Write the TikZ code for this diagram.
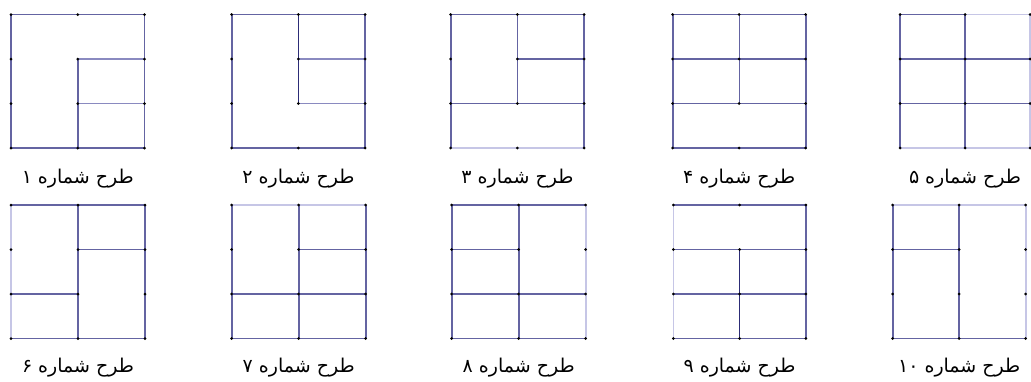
\documentclass[tikz,border=0pt]{standalone}
\usepackage{fontspec}
\usepackage{xcolor}
\usetikzlibrary{positioning}
\newfontfamily\arabicfont[Script=Arabic]{DejaVu Sans}
\TeXXeTstate=1
\definecolor{wallblue}{RGB}{100,100,162}
\definecolor{softblue}{RGB}{138,138,192}
\definecolor{faintblue}{RGB}{198,198,230}
\definecolor{darkblue}{RGB}{44,44,118}
\tikzset{
  wall/.style={draw=wallblue, line width=1.6pt},
  soft/.style={draw=softblue, line width=1.6pt},
  faint/.style={draw=faintblue, line width=1.6pt},
  strong/.style={draw=darkblue, line width=1.3pt},
  thinwall/.style={draw=wallblue, line width=1pt},
  caption/.style={font=\fontsize{19}{22}\selectfont\arabicfont, inner sep=0pt}
}
% grid points of one plan: name, left, top, width
\newcommand{\plangrid}[4]{%
  \foreach \c in {0,1,2}{\foreach \r in {0,1,2,3}{
    \coordinate (#1-\c\r) at ({#2+\c*#4/2},{#3+\r*44.5});}}}
\newcommand{\planjoints}[1]{%
  \foreach \c in {0,1,2}{\foreach \r in {0,1,2,3}{
    \fill (#1-\c\r) circle (1.5);}}}
\newcommand{\plantitle}[1]{\beginR طرح شماره \beginL#1\endL\endR}

\begin{document}
\begin{tikzpicture}[x=1pt, y=-1pt]
  \useasboundingbox (0,0) rectangle (1031,381);

  \plangrid{p1}{11}{14.5}{133.5}
  \plangrid{p2}{231.7}{14.5}{133.5}
  \plangrid{p3}{450.7}{14.5}{133.5}
  \plangrid{p4}{672.7}{14.5}{133}
  \plangrid{p5}{900}{14.5}{130}
  \plangrid{p6}{11}{205}{134}
  \plangrid{p7}{231.7}{205}{134}
  \plangrid{p8}{451.7}{205}{134}
  \plangrid{p9}{673.3}{205}{132.5}
  \plangrid{p10}{892.7}{205}{133}

  % row 1
  \draw[wall] (p1-00) rectangle (p1-23);
  \draw[wall] (p1-11) -- (p1-13);
  \draw[soft] (p1-11) -- (p1-21) (p1-12) -- (p1-22);

  \draw[wall] (p2-00) rectangle (p2-23);
  \draw[strong] (p2-10) -- (p2-12);
  \draw[soft] (p2-11) -- (p2-21) (p2-12) -- (p2-22);

  \draw[faint] (p3-03) -- (p3-23);
  \draw[wall] (p3-03) -- (p3-00) -- (p3-20) -- (p3-23);
  \draw[wall] (p3-10) -- (p3-12) (p3-11) -- (p3-21) (p3-02) -- (p3-22);

  \draw[wall] (p4-00) rectangle (p4-23);
  \draw[wall] (p4-01) -- (p4-21) (p4-02) -- (p4-22);
  \draw[thinwall] (p4-10) -- (p4-12);

  \draw[faint] (p5-10) -- (p5-20) -- (p5-23) -- (p5-03);
  \draw[wall] (p5-03) -- (p5-00) -- (p5-10);
  \draw[wall] (p5-01) -- (p5-21) (p5-02) -- (p5-22) (p5-10) -- (p5-13);

  % row 2
  \draw[faint] (p6-00) -- (p6-03);
  \draw[wall] (p6-00) -- (p6-20) -- (p6-23) -- (p6-03);
  \draw[wall] (p6-10) -- (p6-13) (p6-11) -- (p6-21) (p6-02) -- (p6-12);

  \draw[faint] (p7-00) -- (p7-20);
  \draw[wall] (p7-20) -- (p7-23) -- (p7-03) -- (p7-00);
  \draw[wall] (p7-10) -- (p7-13) (p7-11) -- (p7-21) (p7-02) -- (p7-22);

  \draw[faint] (p8-20) -- (p8-23);
  \draw[wall] (p8-23) -- (p8-03) -- (p8-00) -- (p8-20);
  \draw[wall] (p8-10) -- (p8-13) (p8-01) -- (p8-11) (p8-02) -- (p8-22);

  \draw[faint] (p9-00) -- (p9-03);
  \draw[wall] (p9-03) -- (p9-23) -- (p9-20) -- (p9-00);
  \draw[wall] (p9-01) -- (p9-21) (p9-02) -- (p9-22);
  \draw[strong] (p9-11) -- (p9-13);

  \draw[faint] (p10-00) -- (p10-20) -- (p10-23);
  \draw[wall] (p10-23) -- (p10-03) -- (p10-00);
  \draw[wall] (p10-10) -- (p10-13) (p10-01) -- (p10-11);

  % joints
  \foreach \p in {p1,p2,p3,p4,p5,p6,p7,p8,p9,p10}{\planjoints{\p}}

  % titles
  \node[caption, below=21pt of p1-13] (title1) {\plantitle{۱}};
  \node[caption, below=21pt of p2-13] (title2) {\plantitle{۲}};
  \node[caption, below=21pt of p3-13] (title3) {\plantitle{۳}};
  \node[caption, below=21pt of p4-13] (title4) {\plantitle{۴}};
  \node[caption, below=21pt of p5-13] (title5) {\plantitle{۵}};
  \node[caption, below=19pt of p6-13] (title6) {\plantitle{۶}};
  \node[caption, below=19pt of p7-13] (title7) {\plantitle{۷}};
  \node[caption, below=19pt of p8-13] (title8) {\plantitle{۸}};
  \node[caption, below=19pt of p9-13] (title9) {\plantitle{۹}};
  \node[caption, below=19pt of p10-13] (title10) {\plantitle{۱۰}};
\end{tikzpicture}
\end{document}
